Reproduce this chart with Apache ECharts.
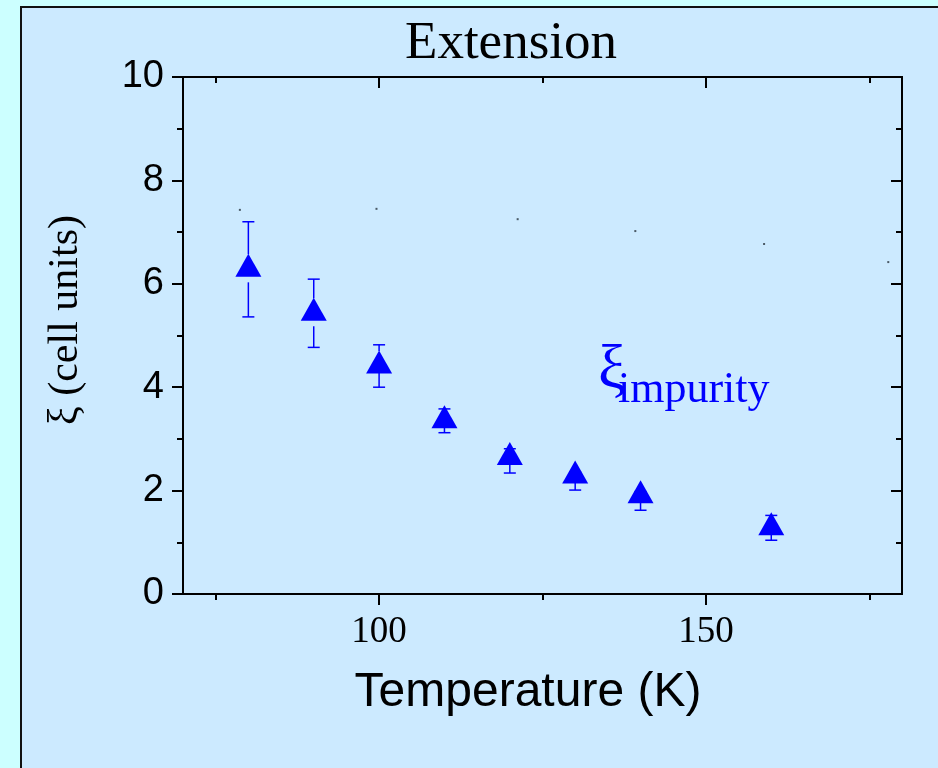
<!DOCTYPE html>
<html>
<head>
<meta charset="utf-8">
<script src="https://cdn.jsdelivr.net/npm/echarts@6/dist/echarts.min.js"></script>
<style>
html,body{margin:0;padding:0;background:#ccffff;}
#chart{width:938px;height:768px;}
</style>
</head>
<body>
<div id="chart"></div>
<script>
// ---- data ----
var temps = [80, 90, 100, 110, 120, 130, 140, 160];
var xiValues = [6.28, 5.43, 4.41, 3.35, 2.64, 2.28, 1.90, 1.28];
var xiErrUp = [0.92, 0.66, 0.41, 0.23, 0.17, 0.08, 0.08, 0.24];
var xiErrDown = [0.92, 0.66, 0.41, 0.23, 0.30, 0.27, 0.28, 0.24];
var dotTemps = [78.7, 99.6, 121.2, 139.2, 158.9, 177.9];
var dotValues = [7.43, 7.45, 7.25, 7.02, 6.77, 6.42];
var xMajorTicks = [100, 150];
var xMinorTicks = [75, 125, 175];
var yTickLabels = ['0', '2', '4', '6', '8', '10'];

var chart = echarts.init(document.getElementById('chart'));

var mainPts = temps.map(function (t, i) { return [t, xiValues[i]]; });
var errPts = temps.map(function (t, i) { return [t, xiValues[i], xiErrUp[i], xiErrDown[i]]; });
var dotPts = dotTemps.map(function (t, i) { return [t, dotValues[i]]; });

var sans = '"Liberation Sans", Arial, sans-serif';
var serif = '"Liberation Serif", "Times New Roman", serif';

function xAxisDef(pos, ticks, len, inside, labels) {
  return {
    type: 'value', position: pos, min: 70, max: 180,
    axisLine: { show: true, onZero: false, lineStyle: { color: '#000', width: 2 } },
    axisTick: { show: true, inside: inside, length: len, customValues: ticks, lineStyle: { color: '#000', width: 2 } },
    axisLabel: labels ? {
      show: true, customValues: ticks, margin: 20,
      fontFamily: serif, fontSize: 37, color: '#000'
    } : { show: false },
    splitLine: { show: false }
  };
}

function yAxisDef(pos, inside, labels) {
  return {
    type: 'value', position: pos, min: 0, max: 10, interval: 2,
    axisLine: { show: true, onZero: false, lineStyle: { color: '#000', width: 2 } },
    axisTick: { show: true, inside: inside, length: 11, lineStyle: { color: '#000', width: 2 } },
    minorTick: { show: true, splitNumber: 2, length: 6, lineStyle: { color: '#000', width: 2 } },
    axisLabel: labels ? {
      show: true, margin: 19, fontFamily: sans, fontSize: 38, color: '#000',
      formatter: function (v) { var i = Math.round(v / 2); return yTickLabels[i] !== undefined ? yTickLabels[i] : ''; }
    } : { show: false },
    splitLine: { show: false },
    minorSplitLine: { show: false }
  };
}

var option = {
  backgroundColor: '#ccffff',
  animation: false,
  grid: { left: 183, right: 36, top: 77, bottom: 174, containLabel: false },
  xAxis: [
    xAxisDef('bottom', xMajorTicks, 11, false, true),
    xAxisDef('top', xMajorTicks, 11, true, false),
    xAxisDef('bottom', xMinorTicks, 6, false, false),
    xAxisDef('top', xMinorTicks, 6, true, false)
  ],
  yAxis: [
    yAxisDef('left', false, true),
    yAxisDef('right', true, false)
  ],
  graphic: [
    { type: 'rect', z: -100, silent: true,
      shape: { x: 21, y: 7, width: 1000, height: 900 },
      style: { fill: '#cceaff', stroke: '#111', lineWidth: 2 } },
    { type: 'text', x: 511, y: 44, z: 10,
      style: { text: 'Extension', font: '53px ' + serif, fill: '#000', align: 'center', verticalAlign: 'middle' } },
    { type: 'text', x: 528, y: 693, z: 10,
      style: { text: 'Temperature (K)', font: '48px ' + sans, fill: '#000', align: 'center', verticalAlign: 'middle' } },
    { type: 'text', x: 66, y: 320, rotation: Math.PI / 2, z: 10,
      style: { text: 'ξ (cell units)', font: '42px ' + serif, fill: '#000', align: 'center', verticalAlign: 'middle' } },
    { type: 'text', x: 598, y: 371, z: 10,
      style: { text: 'ξ', font: '62px ' + serif, fill: '#0000ff', align: 'left', verticalAlign: 'middle' } },
    { type: 'text', x: 618, y: 390, z: 10,
      style: { text: 'impurity', font: '44px ' + serif, fill: '#0000ff', align: 'left', verticalAlign: 'middle' } }
  ],
  series: [
    {
      type: 'scatter', xAxisIndex: 0, yAxisIndex: 0, data: dotPts,
      symbol: 'rect', symbolSize: 2, itemStyle: { color: '#4a5a66', opacity: 1 }, z: 3
    },
    {
      type: 'custom', xAxisIndex: 0, yAxisIndex: 0, data: errPts, z: 4,
      renderItem: function (params, api) {
        var x = api.value(0), y = api.value(1), eu = api.value(2), ed = api.value(3);
        var p = api.coord([x, y]);
        var top = api.coord([x, y + eu]);
        var bot = api.coord([x, y - ed]);
        var st = { stroke: '#0000ff', lineWidth: 1.5 };
        var ch = [
          { type: 'line', shape: { x1: p[0] - 6, y1: top[1], x2: p[0] + 6, y2: top[1] }, style: st },
          { type: 'line', shape: { x1: p[0] - 6, y1: bot[1], x2: p[0] + 6, y2: bot[1] }, style: st }
        ];
        if (top[1] < p[1] - 15) ch.push({ type: 'line', shape: { x1: p[0], y1: top[1], x2: p[0], y2: p[1] - 15 }, style: st });
        var startB = (bot[1] - p[1] > 25) ? p[1] + 13 : p[1];
        ch.push({ type: 'line', shape: { x1: p[0], y1: startB, x2: p[0], y2: bot[1] }, style: st });
        return { type: 'group', children: ch };
      }
    },
    {
      type: 'scatter', xAxisIndex: 0, yAxisIndex: 0, data: mainPts,
      symbol: 'triangle', symbolSize: [26, 23], symbolOffset: [0, -4],
      itemStyle: { color: '#0000ff', opacity: 1 }, z: 5
    }
  ]
};
chart.setOption(option);
</script>
</body>
</html>
